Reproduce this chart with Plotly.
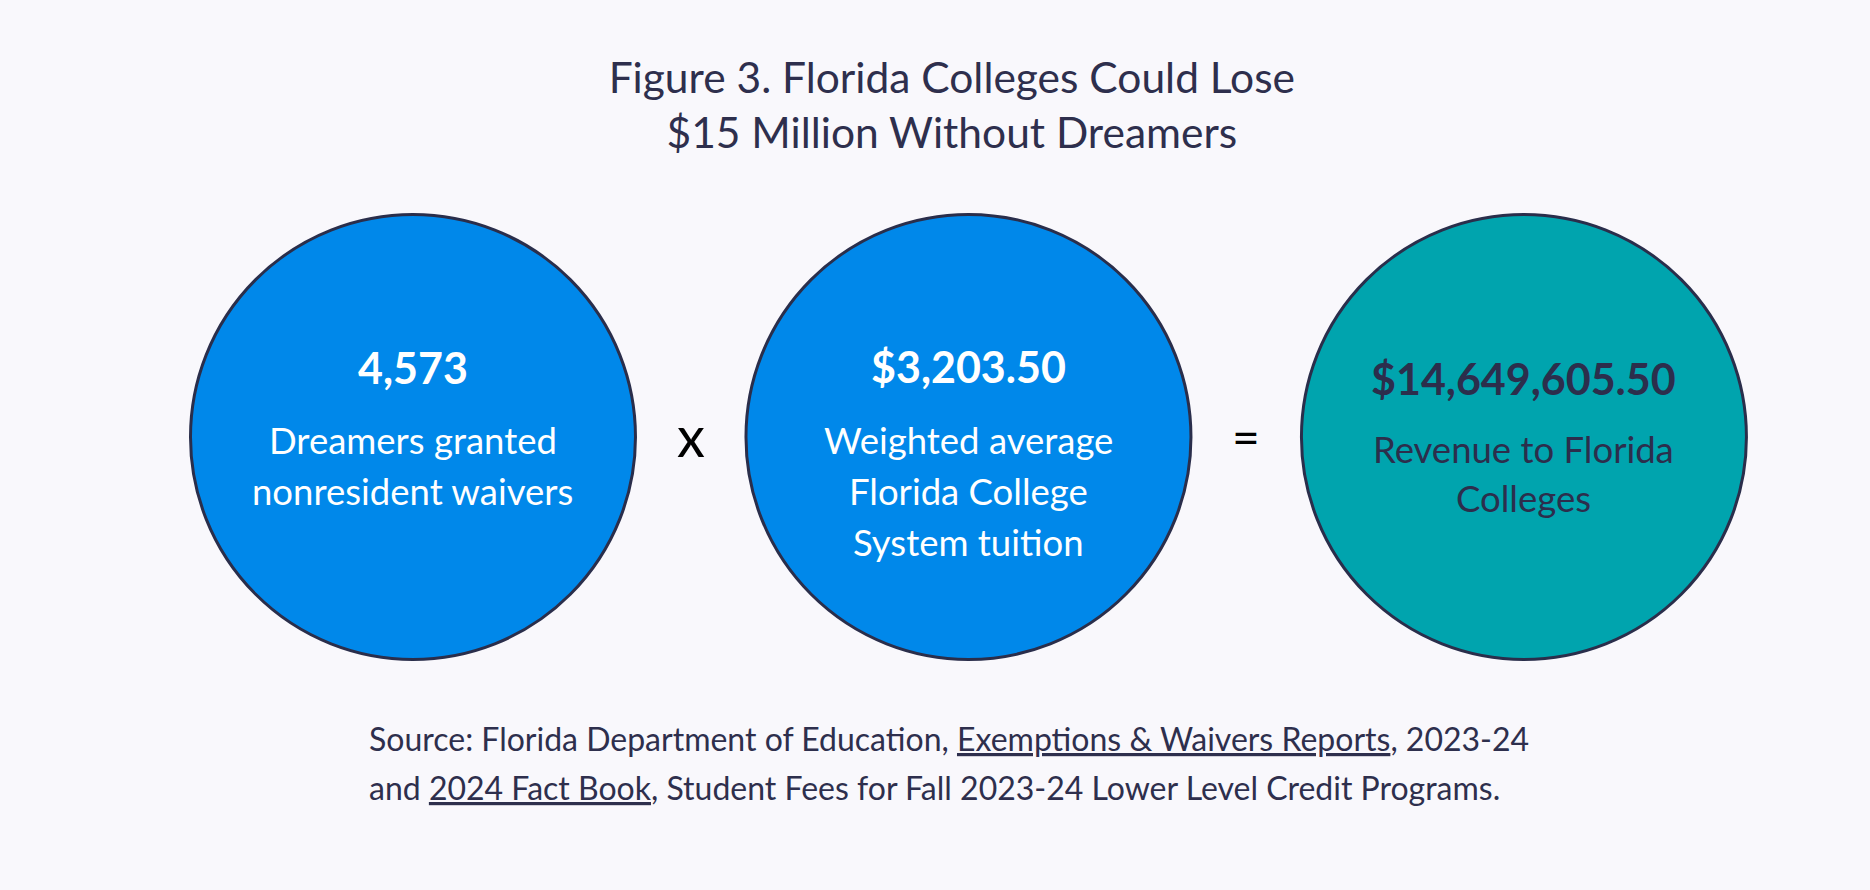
import plotly.graph_objects as go

# values shown in the three circles
dreamers = 4573
avg_tuition = 3203.50
revenue = 14649605.50

labels = [
    ["Dreamers granted", "nonresident waivers"],
    ["Weighted average", "Florida College", "System tuition"],
    ["Revenue to Florida", "Colleges"],
]
operators = ["x", "="]

fill_colors = ["#0088EA", "#0088EA", "#00A4AE"]
text_colors = ["#FFFFFF", "#FFFFFF", "#2C2E4C"]
OUTLINE = "#2A2E4B"
NAVY = "#2E2F4D"
BG = "#F9F8FC"
FONT = "Lato"

values_txt = [f"{dreamers:,}", f"${avg_tuition:,.2f}", f"${revenue:,.2f}"]

# pixel offsets (from the circle centre) for the bold number and label lines
num_shift = [69, 70, 58]
label_first = [-3, -3, -12]
line_gap = [51, 51, 49]

fig = go.Figure()
fig.add_trace(go.Scatter(
    x=[0, 1, 2], y=[0, 0, 0],
    mode="markers",
    marker=dict(size=445, color=fill_colors, line=dict(width=3, color=OUTLINE)),
    hoverinfo="skip", showlegend=False,
))

# the "x" and "=" between the circles
op_size = [56, 48]
op_shift = [1, 0]
for k, op in enumerate(operators):
    fig.add_annotation(
        x=k + 0.5, y=0, xref="x", yref="y", text=op, showarrow=False,
        yshift=op_shift[k], yanchor="middle",
        font=dict(family=FONT, size=op_size[k], color="#000000"),
    )

for i, val in enumerate(values_txt):
    fig.add_annotation(
        x=i, y=0, xref="x", yref="y", text=f"<b>{val}</b>", showarrow=False,
        yshift=num_shift[i], yanchor="middle",
        font=dict(family=FONT, size=43, color=text_colors[i]),
    )
    for j, line in enumerate(labels[i]):
        fig.add_annotation(
            x=i, y=0, xref="x", yref="y", text=line, showarrow=False,
            yshift=label_first[i] - j * line_gap[i], yanchor="middle",
            font=dict(family=FONT, size=36.5, color=text_colors[i]),
        )

source_lines = [
    "Source: Florida Department of Education, <u>Exemptions & Waivers Reports</u>, 2023-24",
    "and <u>2024 Fact Book</u>, Student Fees for Fall 2023-24 Lower Level Credit Programs.",
]
for k, line in enumerate(source_lines):
    fig.add_annotation(
        x=0.1963, y=0.1697 - k * 0.054, xref="paper", yref="paper",
        text=line, showarrow=False, xanchor="left", yanchor="middle", align="left",
        font=dict(family=FONT, size=32, color=NAVY),
    )

fig.update_layout(
    title=dict(
        text="Figure 3. Florida Colleges Could Lose<br>$15 Million Without Dreamers",
        x=0.509, xanchor="center", y=0.8955, yanchor="middle",
        font=dict(family=FONT, size=42.5, color=NAVY),
    ),
    width=1870, height=890,
    margin=dict(l=0, r=0, t=0, b=0),
    paper_bgcolor=BG, plot_bgcolor=BG,
    xaxis=dict(range=[-0.7435, 2.623], visible=False, fixedrange=True),
    yaxis=dict(range=[-1, 0.9646], visible=False, fixedrange=True),
)

fig.write_html(
    "out.html",
    config={"displayModeBar": False},
    post_script="document.body.style.margin='0';document.body.style.overflow='hidden';"
                "document.body.style.background='" + BG + "';",
)
